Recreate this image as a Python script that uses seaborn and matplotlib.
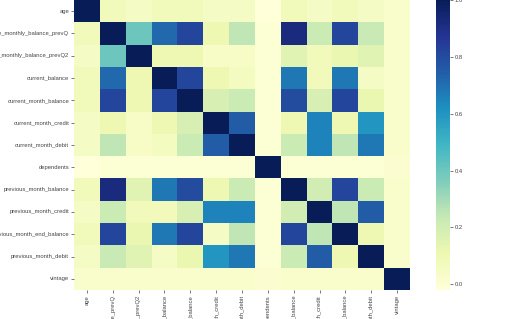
import numpy as np
import pandas as pd
import matplotlib
matplotlib.use("Agg")
import matplotlib.pyplot as plt
import seaborn as sns

labels = ["age", "average_monthly_balance_prevQ", "average_monthly_balance_prevQ2",
          "current_balance", "current_month_balance", "current_month_credit",
          "current_month_debit", "dependents", "previous_month_balance",
          "previous_month_credit", "previous_month_end_balance",
          "previous_month_debit", "vintage"]

r_age   = [1.00, 0.08, 0.05, 0.08, 0.08, 0.05, 0.05, -0.02, 0.08, 0.05, 0.08, 0.05, 0.02]
r_pq    = [0.08, 1.00, 0.40, 0.72, 0.82, 0.10, 0.25, 0.00, 0.92, 0.22, 0.82, 0.23, 0.02]
r_pq2   = [0.05, 0.40, 1.00, 0.10, 0.10, 0.04, 0.04, 0.00, 0.15, 0.08, 0.12, 0.15, 0.02]
r_cb    = [0.08, 0.72, 0.10, 1.00, 0.82, 0.10, 0.06, 0.00, 0.68, 0.08, 0.68, 0.05, 0.02]
r_cmb   = [0.08, 0.82, 0.10, 0.82, 1.00, 0.18, 0.22, 0.00, 0.80, 0.18, 0.82, 0.12, 0.02]
r_cmc   = [0.05, 0.10, 0.04, 0.10, 0.18, 1.00, 0.75, 0.00, 0.10, 0.65, 0.10, 0.60, 0.02]
r_cmd   = [0.05, 0.25, 0.04, 0.06, 0.22, 0.75, 1.00, 0.00, 0.22, 0.65, 0.25, 0.68, 0.02]
r_dep   = [-0.02, 0.00, 0.00, 0.00, 0.00, 0.00, 0.00, 1.00, 0.00, 0.00, 0.00, 0.00, 0.01]
r_pmb   = [0.08, 0.92, 0.15, 0.68, 0.80, 0.10, 0.22, 0.00, 1.00, 0.20, 0.82, 0.22, 0.02]
r_pmc   = [0.05, 0.22, 0.08, 0.08, 0.18, 0.65, 0.65, 0.00, 0.20, 1.00, 0.25, 0.75, 0.02]
r_pmeb  = [0.08, 0.82, 0.12, 0.68, 0.82, 0.05, 0.25, 0.00, 0.82, 0.25, 1.00, 0.10, 0.02]
r_pmd   = [0.05, 0.23, 0.15, 0.05, 0.12, 0.60, 0.68, 0.00, 0.22, 0.75, 0.10, 1.00, 0.02]
r_vin   = [0.02, 0.02, 0.02, 0.02, 0.02, 0.02, 0.02, 0.01, 0.02, 0.02, 0.02, 0.02, 1.00]

corr = pd.DataFrame([r_age, r_pq, r_pq2, r_cb, r_cmb, r_cmc, r_cmd, r_dep,
                     r_pmb, r_pmc, r_pmeb, r_pmd, r_vin],
                    index=labels, columns=labels)

plt.rcParams["font.family"] = ["Liberation Sans", "DejaVu Sans"]

W, H = 512, 319
fig = plt.figure(figsize=(W / 100, H / 100), dpi=100)
ax = fig.add_axes([74 / W, 1 - 290 / H, 336 / W, 290 / H])
cax = fig.add_axes([436 / W, 1 - 290 / H, 14 / W, 290 / H])

sns.heatmap(corr, cmap="YlGnBu", ax=ax, cbar_ax=cax)

ax.tick_params(axis="both", labelsize=4.2, length=2, width=0.5, colors="#444444", pad=1.5)
for t in ax.get_xticklabels():
    t.set_rotation(90)
for t in ax.get_yticklabels():
    t.set_rotation(0)
cax.tick_params(labelsize=4.2, length=2, width=0.5, colors="#444444", pad=1.5)

fig.savefig("out.png", dpi=100)
